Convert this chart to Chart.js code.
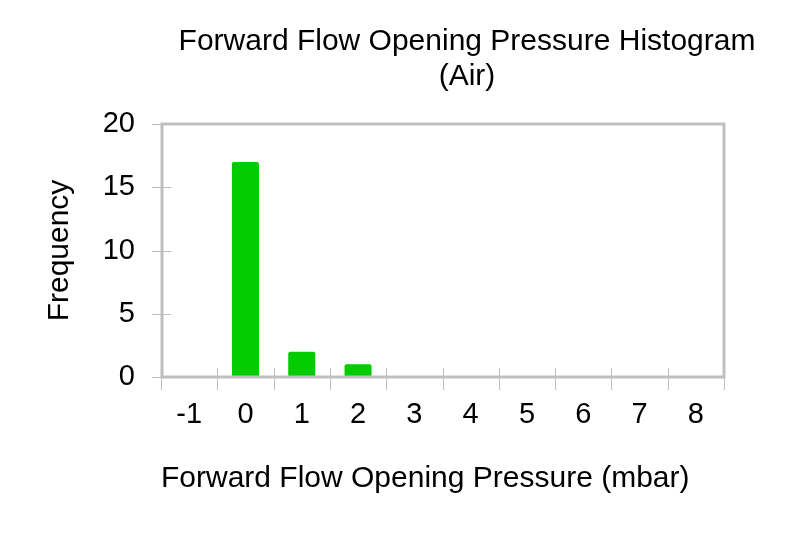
<!DOCTYPE html>
<html>
<head>
<meta charset="utf-8">
<script src="https://cdn.jsdelivr.net/npm/chart.js@4/dist/chart.umd.min.js"></script>
<style>
html,body{margin:0;padding:0;background:#fff;}
canvas{display:block;}
</style>
</head>
<body>
<canvas id="c" width="785" height="552"></canvas>
<script>
const categories = ['-1','0','1','2','3','4','5','6','7','8'];
const frequency = [0,17,2,1,0,0,0,0,0,0];
const yTickValues = [0,5,10,15,20];
const titleLines = ['Forward Flow Opening Pressure Histogram','(Air)'];
const xTitle = 'Forward Flow Opening Pressure (mbar)';
const yTitle = 'Frequency';

const FONT = 'Liberation Sans, Arial, sans-serif';
const GRAY = '#bfbfbf';

const framePlugin = {
  id: 'frame',
  afterDatasetsDraw(chart) {
    const {ctx, chartArea: a, scales} = chart;
    const xs = scales.x, ys = scales.y;
    ctx.save();
    ctx.strokeStyle = GRAY;
    ctx.lineWidth = 1;
    ctx.beginPath();
    yTickValues.forEach(v => {
      const y = Math.round(ys.getPixelForValue(v)) + 0.5;
      ctx.moveTo(a.left - 9, y);
      ctx.lineTo(a.left + 10, y);
    });
    for (let i = 0; i <= categories.length; i++) {
      const x = Math.round(xs.getPixelForValue(i - 0.5)) + 0.5;
      ctx.moveTo(x, a.bottom - 9);
      ctx.lineTo(x, a.bottom + 13);
    }
    ctx.stroke();
    ctx.lineWidth = 3;
    ctx.strokeStyle = GRAY;
    ctx.strokeRect(a.left + 1, a.top, a.right - a.left - 1, a.bottom - a.top);
    ctx.restore();
  },
  afterDraw(chart) {
    const {ctx} = chart;
    ctx.save();
    ctx.fillStyle = '#000';
    ctx.font = '30px ' + FONT;
    ctx.textAlign = 'center';
    ctx.textBaseline = 'middle';
    ctx.fillText(titleLines[0], 467, 42);
    ctx.fillText(titleLines[1], 467, 77);
    ctx.restore();
  }
};

new Chart(document.getElementById('c'), {
  type: 'bar',
  data: {
    labels: categories,
    datasets: [{
      data: frequency,
      backgroundColor: '#00cc00',
      borderWidth: 0,
      borderRadius: {topLeft: 2, topRight: 2, bottomLeft: 0, bottomRight: 0},
      borderSkipped: false,
      barPercentage: 0.48,
      categoryPercentage: 1
    }]
  },
  plugins: [framePlugin],
  options: {
    responsive: false,
    animation: false,
    devicePixelRatio: 1,
    layout: {padding: {left: 0, top: 124, right: 61, bottom: 55}},
    plugins: {legend: {display: false}, title: {display: false}, tooltip: {enabled: false}},
    scales: {
      x: {
        type: 'category',
        offset: true,
        grid: {display: false, drawTicks: false},
        border: {display: false},
        ticks: {color: '#000', font: {family: FONT, size: 29}, padding: 21, maxRotation: 0, autoSkip: false},
        title: {display: true, text: xTitle, align: 'start', color: '#000', font: {family: FONT, size: 30}, padding: {top: 0, bottom: 0}},
        afterFit(s) { s.height = 120; }
      },
      y: {
        min: 0, max: 20,
        afterBuildTicks(s) { s.ticks = yTickValues.map(v => ({value: v})); },
        grid: {display: false, drawTicks: false},
        border: {display: false},
        ticks: {color: '#000', font: {family: FONT, size: 29}, padding: 26},
        title: {display: true, text: yTitle, color: '#000', font: {family: FONT, size: 30}, padding: {top: 42, bottom: 0}},
        afterFit(s) { s.width = 161; }
      }
    }
  }
});
</script>
</body>
</html>
